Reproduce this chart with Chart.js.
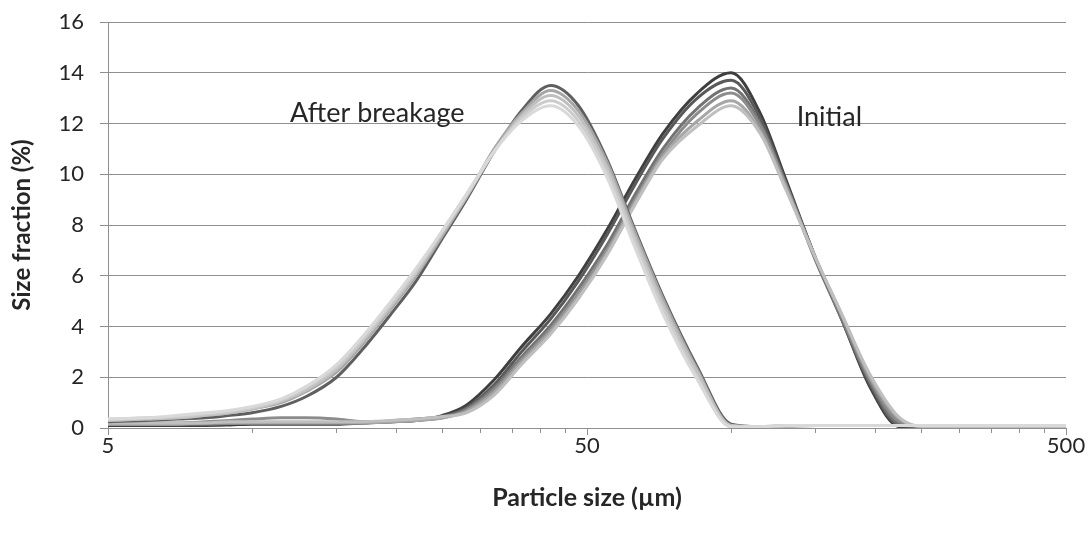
<!DOCTYPE html>
<html>
<head>
<meta charset="utf-8">
<script src="https://cdn.jsdelivr.net/npm/chart.js@4.4.1/dist/chart.umd.min.js"></script>
<style>
  body { margin: 0; background: #fff; }
  canvas { display: block; }
</style>
</head>
<body>
<canvas id="psd" width="1089" height="538"></canvas>
<script>
// particle sizes (um)
var sizes = [5, 6, 7, 8, 9, 10, 11.5, 13, 15, 17, 19.5, 22, 25, 28, 32, 36.5, 42, 48, 55, 63,
             72, 85, 100, 115, 130, 150, 170, 195, 225, 260, 300, 350, 400, 450, 500];

// after breakage runs (size fraction %)
var after1 = [0.25, 0.3, 0.35, 0.4, 0.5, 0.6, 0.85, 1.25, 2.0, 3.1, 4.5, 5.8, 7.5, 9.0, 10.9, 12.5, 13.5, 12.7, 10.6, 7.8,
              5.2, 2.4, 0.15, 0.05, 0.08, 0.1, 0.1, 0.1, 0.1, 0.1, 0.1, 0.1, 0.1, 0.1, 0.1];
var after2 = [0.3, 0.35, 0.4, 0.5, 0.6, 0.75, 1.0, 1.45, 2.2, 3.3, 4.7, 6.0, 7.6, 9.1, 11.0, 12.4, 13.3, 12.5, 10.5, 7.7,
              5.1, 2.3, 0.1, 0.05, 0.08, 0.1, 0.1, 0.1, 0.1, 0.1, 0.1, 0.1, 0.1, 0.1, 0.1];
var after3 = [0.3, 0.35, 0.4, 0.5, 0.6, 0.75, 1.05, 1.5, 2.3, 3.4, 4.8, 6.1, 7.7, 9.1, 10.9, 12.3, 13.1, 12.3, 10.3, 7.5,
              4.9, 2.2, 0.1, 0.05, 0.08, 0.1, 0.1, 0.1, 0.1, 0.1, 0.1, 0.1, 0.1, 0.1, 0.1];
var after4 = [0.35, 0.4, 0.45, 0.55, 0.65, 0.8, 1.1, 1.6, 2.4, 3.5, 4.9, 6.2, 7.8, 9.2, 10.9, 12.2, 12.9, 12.1, 10.1, 7.3,
              4.7, 2.0, 0.05, 0.05, 0.1, 0.1, 0.1, 0.1, 0.1, 0.1, 0.1, 0.1, 0.1, 0.1, 0.1];
var after5 = [0.35, 0.4, 0.5, 0.6, 0.7, 0.85, 1.15, 1.65, 2.5, 3.6, 5.0, 6.3, 7.8, 9.2, 10.9, 12.1, 12.7, 11.9, 9.9, 7.1,
              4.5, 1.9, 0.05, 0.05, 0.1, 0.1, 0.1, 0.1, 0.1, 0.1, 0.1, 0.1, 0.1, 0.1, 0.1];

// initial runs
var init1 = [0.1, 0.1, 0.1, 0.1, 0.12, 0.15, 0.15, 0.15, 0.15, 0.2, 0.25, 0.3, 0.5, 0.9, 1.9, 3.2, 4.5, 6.0, 7.8, 9.8,
             11.6, 13.2, 14.0, 12.4, 9.8, 6.7, 4.3, 1.6, 0.05, 0.05, 0.05, 0.05, 0.05, 0.05, 0.05];
var init2 = [0.15, 0.15, 0.15, 0.15, 0.18, 0.2, 0.2, 0.2, 0.2, 0.2, 0.25, 0.3, 0.45, 0.8, 1.7, 3.0, 4.3, 5.8, 7.6, 9.6,
             11.4, 13.0, 13.7, 12.2, 9.7, 6.7, 4.3, 1.7, 0.1, 0.05, 0.05, 0.05, 0.05, 0.05, 0.05];
var init3 = [0.15, 0.15, 0.15, 0.15, 0.18, 0.2, 0.2, 0.2, 0.2, 0.22, 0.28, 0.35, 0.45, 0.75, 1.6, 2.8, 4.05, 5.5, 7.2, 9.2,
             11.0, 12.6, 13.4, 12.0, 9.6, 6.6, 4.3, 1.8, 0.15, 0.05, 0.05, 0.05, 0.05, 0.05, 0.05];
var init4 = [0.2, 0.2, 0.2, 0.25, 0.3, 0.35, 0.4, 0.4, 0.35, 0.25, 0.25, 0.3, 0.4, 0.7, 1.5, 2.7, 3.9, 5.3, 7.0, 9.0,
             10.8, 12.4, 13.2, 11.9, 9.6, 6.7, 4.4, 1.9, 0.25, 0.05, 0.05, 0.05, 0.05, 0.05, 0.05];
var init5 = [0.15, 0.15, 0.15, 0.2, 0.2, 0.2, 0.2, 0.2, 0.2, 0.2, 0.25, 0.3, 0.4, 0.65, 1.4, 2.6, 3.8, 5.2, 6.9, 8.9,
             10.7, 12.1, 12.9, 11.7, 9.5, 6.7, 4.5, 2.0, 0.35, 0.05, 0.05, 0.05, 0.05, 0.05, 0.05];
var init6 = [0.2, 0.2, 0.2, 0.2, 0.25, 0.25, 0.25, 0.25, 0.25, 0.25, 0.3, 0.35, 0.45, 0.6, 1.3, 2.5, 3.7, 5.1, 6.8, 8.8,
             10.6, 11.9, 12.7, 11.6, 9.4, 6.7, 4.5, 2.1, 0.4, 0.05, 0.05, 0.05, 0.05, 0.05, 0.05];

// axis ticks
var xTickValues = [5, 10, 15, 20, 25, 30, 35, 40, 45, 50, 100, 150, 200, 250, 300, 350, 400, 450, 500];
var xTickLabels = ['5', '50', '500'];
var yMin = 0, yMax = 16, yStep = 2;

var gridColor = '#8f8f8f';
var textColor = '#262626';

function pts(vals) {
    return sizes.map(function (s, i) { return { x: s, y: vals[i] }; });
}

function line(vals, color) {
    return {
        data: pts(vals),
        borderColor: color,
        borderWidth: 3,
        pointRadius: 0,
        fill: false,
        cubicInterpolationMode: 'monotone'
    };
}

// text labels placed in data space
var labelsPlugin = {
    id: 'groupLabels',
    afterDraw: function (chart) {
        var c = chart.ctx, xs = chart.scales.x, ys = chart.scales.y;
        c.save();
        c.font = '27px Lato';
        c.fillStyle = textColor;
        c.textBaseline = 'alphabetic';
        c.textAlign = 'left';
        c.fillText('After breakage', xs.getPixelForValue(12.0), ys.getPixelForValue(12.07));
        c.fillText('Initial', xs.getPixelForValue(137), ys.getPixelForValue(11.92));
        c.restore();
    }
};

var ctx = document.getElementById('psd').getContext('2d');
var psdChart = new Chart(ctx, {
    type: 'line',
    data: {
        datasets: [
            line(after5, '#d9d9d9'),
            line(after4, '#cccccc'),
            line(after3, '#bfbfbf'),
            line(after2, '#a6a6a6'),
            line(after1, '#5f5f5f'),
            line(init6, '#bfbfbf'),
            line(init5, '#a6a6a6'),
            line(init4, '#8c8c8c'),
            line(init3, '#737373'),
            line(init2, '#595959'),
            line(init1, '#3f3f3f')
        ]
    },
    options: {
        responsive: false,
        animation: false,
        layout: { padding: { top: 22, right: 23, bottom: 0, left: 0 } },
        plugins: {
            legend: { display: false },
            tooltip: { enabled: false }
        },
        scales: {
            x: {
                type: 'logarithmic',
                min: 5,
                max: 500,
                afterBuildTicks: function (scale) {
                    scale.ticks = xTickValues.map(function (v) { return { value: v }; });
                },
                afterFit: function (scale) {
                    scale.height = 110;
                    scale.paddingLeft = 0;
                    scale.paddingRight = 0;
                },
                grid: {
                    drawOnChartArea: false,
                    drawTicks: true,
                    tickLength: 7,
                    color: gridColor,
                    tickBorderDash: function (c) {
                        return xTickLabels.indexOf(String(c.tick && c.tick.value)) >= 0 ? [] : [4, 40];
                    }
                },
                border: { color: gridColor },
                ticks: {
                    autoSkip: false,
                    maxRotation: 0,
                    padding: -2,
                    color: textColor,
                    font: { family: 'Lato', size: 22 },
                    callback: function (value) {
                        return xTickLabels.indexOf(String(value)) >= 0 ? String(value) : '';
                    }
                },
                title: {
                    display: true,
                    text: 'Particle size (\u00b5m)',
                    color: textColor,
                    font: { family: 'Lato', size: 25, weight: 'bold', lineHeight: 1.2 },
                    padding: { top: 0, bottom: 25 }
                }
            },
            y: {
                min: yMin,
                max: yMax,
                afterFit: function (scale) {
                    scale.width = 108;
                    scale.paddingTop = 0;
                    scale.paddingBottom = 0;
                },
                grid: { color: gridColor, tickLength: 8 },
                border: { color: gridColor },
                ticks: {
                    stepSize: yStep,
                    padding: 16,
                    color: textColor,
                    font: { family: 'Lato', size: 22 }
                },
                title: {
                    display: true,
                    text: 'Size fraction (%)',
                    color: textColor,
                    font: { family: 'Lato', size: 24, weight: 'bold', lineHeight: 1.2 },
                    padding: { top: 8, bottom: 0 }
                }
            }
        }
    },
    plugins: [labelsPlugin]
});
</script>
</body>
</html>
